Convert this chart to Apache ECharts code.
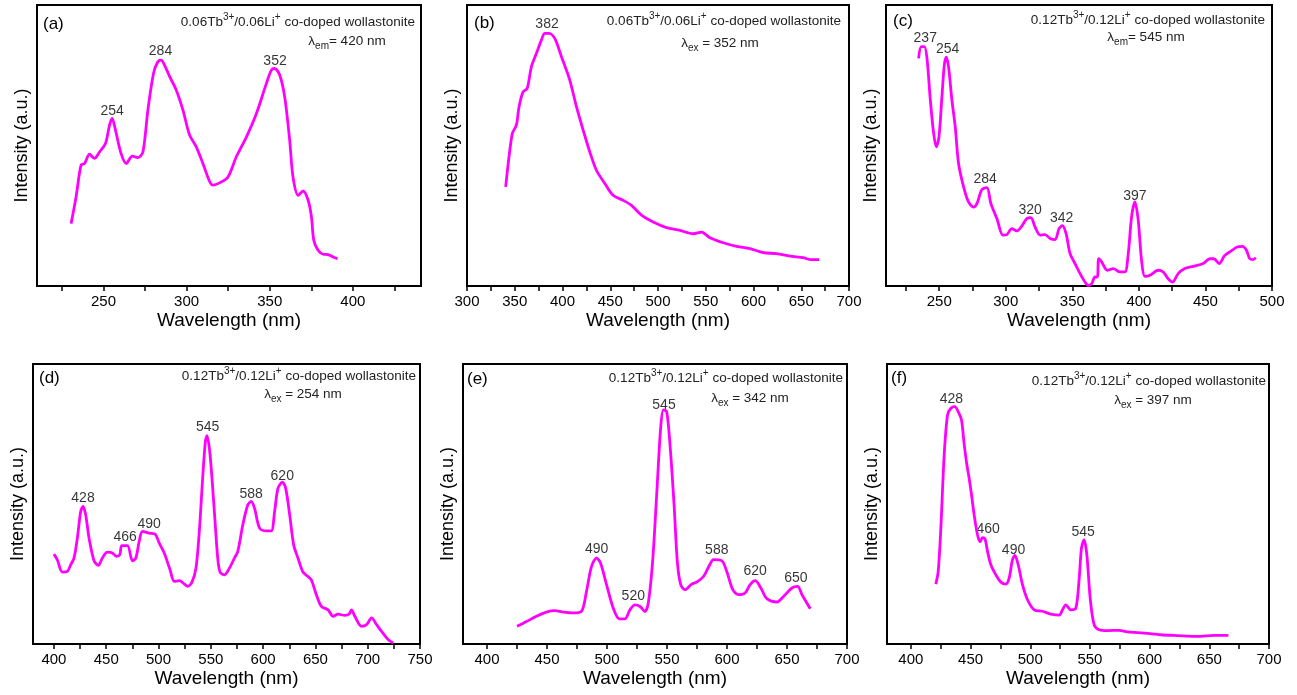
<!DOCTYPE html>
<html style="height: 100%">
<head>
<meta charset="utf-8">
<script src="https://cdn.jsdelivr.net/npm/echarts@6/dist/echarts.min.js"></script>
<style>*{margin:0;padding:0;}</style>
</head>
<body style="height:100%;margin:0;background:#fff">
<div id="container" style="width:1297px;height:695px"></div>
<script>
// spectra: [wavelength nm, intensity (0-100 of the box height)]
var specA = [[230.5,22.2],[233.5,31.7],[236.5,43],[238.6,43.6],[241.6,46.9],[244.6,45.4],[247.6,47.7],[251.2,50.7],[253.6,57.2],[255.2,59.6],[257.2,55.5],[260.6,47.1],[263.7,43.6],[267.3,46.2],[270.7,45.7],[273.7,47.7],[276.7,62.6],[280.1,75.7],[282.7,79.8],[284.7,80.4],[286.7,78.6],[289.8,74.5],[293.8,69.7],[297.8,62.6],[301.8,53.7],[305.8,49.5],[309.8,43.6],[313.9,37.1],[315.9,35.9],[319.9,36.7],[324.9,38.8],[329.9,46],[336,53.1],[342,61.4],[348,72.1],[351,76.8],[353,77.4],[356,75.1],[359,67.3],[362,51.9],[364,38.8],[367.1,32.3],[370.1,33.8],[373.1,30.5],[375.1,24.6],[376.5,16.3],[379.1,12.7],[382.1,11.3],[385.1,11.2],[388.2,10.3],[390.8,9.7]];
var specB = [[340.5,35.3],[344,46],[347.5,54.3],[351,56.7],[352.4,58.4],[354.5,63.8],[358.7,69.1],[363,70.3],[367.4,78],[372.7,82.8],[377.9,87.5],[381.4,89.9],[385.9,89.9],[391.9,88.1],[398.9,81.6],[407.6,73.3],[414.6,63.8],[421.6,55.5],[428.6,47.7],[435.5,41.2],[444.3,36.5],[453,32.3],[463.5,30.5],[472.2,28.7],[482.7,25.2],[494.9,22.8],[508.9,20.8],[522.9,19.8],[536.9,18.6],[545.6,19.2],[554.3,17.2],[568.3,15.4],[582.3,14.1],[596.3,13.3],[610.2,11.9],[624.2,11.5],[638.2,10.6],[652.1,10.1],[659.1,9.4],[668.9,9.4]];
var specC = [[234.5,81],[236.5,85.2],[238.8,85.2],[240.8,81],[243.3,66.2],[245.8,54.3],[247.8,49.5],[249.8,53.1],[252,67.3],[253.8,78.6],[255.3,81.4],[257,78],[259.5,66.2],[262,56.7],[264.5,43.6],[268.3,35.3],[272,29.9],[275.8,28.1],[278.3,29.3],[282,34.3],[285.8,35],[288.8,29.3],[293.3,24],[297.8,18.1],[300.8,18.3],[304.5,20.4],[308.3,19.6],[312,21.3],[315.8,24],[318.8,24.3],[322,21],[325.8,18.1],[329.5,18.3],[333.3,16.9],[337,16.5],[340,20.4],[342.5,21.5],[345.3,18.6],[348.3,11.5],[352,8],[355.8,4.4],[359.5,1.4],[362,0.2],[364.5,0.8],[367,3.2],[368.8,3.2],[369.8,9.7],[372,8.6],[376.3,5.6],[380.8,6.2],[385.8,5],[389.5,5],[392,11.5],[394.5,24.6],[397,29.9],[399.5,23.4],[402,9.1],[404.5,3.4],[408.3,3.8],[414.5,5.6],[418.3,5],[422,2.6],[425.3,1.4],[429.5,4.4],[434.5,6.2],[440.8,7],[448.3,8],[453.3,9.7],[456.3,9.7],[460.3,8],[464.5,10.9],[469.5,12.5],[473.8,13.9],[477.8,14.1],[480.8,12.7],[483.3,9.7],[485.8,9.4],[487.8,10.1]];
var specD = [[400,32.1],[403.2,30.1],[408,25.7],[412.8,25.9],[416,28.3],[419.2,30.7],[422.4,37.8],[425.6,47.3],[427.8,49.1],[430.4,46.1],[433.6,37.8],[438.4,29.7],[442.5,28.1],[446.3,30.7],[451.1,32.8],[455.9,32.5],[459.8,31.3],[463,31.9],[464.9,35.1],[470.3,35.1],[475.1,29.7],[478.3,30.7],[481.5,36.6],[484.7,40.2],[491.1,39.6],[496.9,39.2],[500.7,36],[505.5,32.5],[511,26.5],[515.1,22.4],[519.9,22.6],[524.7,21.4],[527.9,20.6],[532,22.1],[535.8,27.1],[539,40.2],[542.2,59.2],[544.8,72.3],[546.4,74.4],[549.3,67.5],[553.4,47.3],[556.6,30.7],[558.9,25.6],[563,24.7],[567.8,27.1],[572.6,30.7],[575.8,33.1],[580.6,42.6],[585.4,49.7],[588.6,50.9],[591.8,48.5],[596.6,41.4],[603,40.4],[607.8,40.4],[611,47.3],[614.2,55.6],[618.4,57.8],[621.6,55.6],[625.4,46.1],[629.2,35.4],[633.3,30.7],[638.1,25.7],[642.9,24.1],[646.1,22.9],[650.9,17.6],[655.7,13.4],[662.1,12.2],[666.9,9.9],[671.7,10.7],[678.1,10.2],[682.3,10.7],[684.5,12.2],[687.7,9.9],[694.1,6.3],[698.9,6.9],[703.7,9.3],[708.5,6.9],[713.3,4.5],[719.7,1.5],[724.4,0.4]];
var specE = [[425,6.3],[432.8,8],[441.2,9.9],[449.5,11.4],[456.5,11.9],[463.5,11.4],[471.8,11.1],[478.8,11.7],[482.9,18.8],[487.1,27.7],[491.3,30.7],[494.6,28.9],[499.6,21.2],[505.2,12.8],[510.2,9],[514.9,9],[519.1,12.2],[523.3,14],[527.5,13.4],[531.6,11.6],[534.4,14.6],[538,29.4],[541.4,53.3],[544.7,77.1],[547,83.6],[549.7,83],[552.5,71.1],[555.9,49.7],[558.6,29.4],[561.4,21.2],[565,19.4],[570.6,21.4],[574.8,22.1],[580.4,24.1],[585.4,28.1],[588.7,30.1],[595.7,29.7],[599.8,25.9],[604.8,19.4],[609.6,17.6],[615.1,18.2],[619.3,21.2],[623.5,22.6],[628.2,20],[633.2,16.2],[641.6,15],[647.1,17],[654.1,20],[658.8,20.6],[662.5,17.6],[669.4,12.6]];
var specF = [[420.9,21.4],[422.9,25.9],[425.1,41.4],[427.9,67.5],[430.7,81.8],[433.5,84.2],[436.8,84.8],[439.6,83],[442.4,80],[444.7,71.1],[446.9,64],[448.8,59.2],[450.8,53.3],[453,46.1],[455.8,39],[458,36.5],[460,38],[462,37.7],[464.2,33.1],[467,28.3],[471.2,24.7],[475.4,22.1],[479.5,21.4],[482.3,23.5],[485.1,30.1],[487.1,31.6],[489.9,28.3],[493.5,21.2],[497.7,15.8],[503.3,12.2],[510.2,11.7],[517.2,10.7],[524.2,10.3],[527,12.2],[529.8,14],[534,12.2],[538.2,12.8],[541,23.5],[542.9,34.2],[545.1,37.2],[547.4,31.9],[550.2,16.4],[553.5,6.9],[557.7,5.1],[564.7,4.8],[574.4,4.9],[581.4,4.3],[595.4,3.9],[609.3,3.3],[623.3,3],[640,2.7],[654,3.1],[666,3.1]];

// peak labels: [wavelength, intensity at label foot, text]
var peaksA = [[255.2,60.8,'254'],[284.3,82.2,'284'],[353.2,78.6,'352']];
var peaksB = [[383.8,91.7,'382']];
var peaksC = [[239.5,86.9,'237'],[256.3,82.8,'254'],[284.5,36.7,'284'],[318.3,25.4,'320'],[342,22.8,'342'],[397,30.5,'397']];
var peaksD = [[427.8,50.7,'428'],[468.1,36.6,'466'],[491.1,41.4,'490'],[547,76.1,'545'],[588.6,52.1,'588'],[618.3,58.6,'620']];
var peaksE = [[491.3,32.5,'490'],[521.9,15.8,'520'],[547.5,83.9,'545'],[591.5,32.1,'588'],[623.5,24.7,'620'],[657.4,22,'650']];
var peaksF = [[434,86,'428'],[464.7,39.6,'460'],[486,32.1,'490'],[544.3,38.4,'545']];

// tick labels and tick marks
var labelsA = [250,300,350,400];
var ticksA = [225,250,275,300,325,350,375,400,425];
var labelsB = [300,350,400,450,500,550,600,650,700];
var ticksB = [300,325,350,375,400,425,450,475,500,525,550,575,600,625,650,675,700];
var labelsC = [250,300,350,400,450,500];
var ticksC = [225,250,275,300,325,350,375,400,425,450,475,500];
var labelsD = [400,450,500,550,600,650,700,750];
var ticksD = [400,425,450,475,500,525,550,575,600,625,650,675,700,725,750];
var labelsE = [400,450,500,550,600,650,700];
var ticksE = [400,425,450,475,500,525,550,575,600,625,650,675,700];
var labelsF = labelsE;
var ticksF = ticksE;

var sampleTop = ['0.06', '0.06', '0.12', '0.12', '0.12', '0.12'];
var lambdaKind = ['em', 'ex', 'em', 'ex', 'ex', 'ex'];
var lambdaVal = ['420', '352', '545', '254', '342', '397'];
var letters = ['(a)', '(b)', '(c)', '(d)', '(e)', '(f)'];

var font = 'Liberation Sans, Arial, sans-serif';
var magenta = '#ff00ff';

var panels = [
  {grid: {left: 37, top: 5, width: 384, height: 281}, min: 210, max: 441, spec: specA, peaks: peaksA, labels: labelsA, ticks: ticksA,
   letter: [43, 24], l1: [415, 22], l2: [347, 41]},
  {grid: {left: 467, top: 5, width: 382, height: 281}, min: 300, max: 700, spec: specB, peaks: peaksB, labels: labelsB, ticks: ticksB,
   letter: [474, 23], l1: [841, 21], l2: [720, 43]},
  {grid: {left: 886, top: 5, width: 386, height: 281}, min: 210, max: 500, spec: specC, peaks: peaksC, labels: labelsC, ticks: ticksC,
   letter: [893, 21], l1: [1265, 20], l2: [1146, 37]},
  {grid: {left: 33, top: 364, width: 387, height: 280}, min: 380, max: 750, spec: specD, peaks: peaksD, labels: labelsD, ticks: ticksD,
   letter: [39, 378], l1: [416, 376], l2: [303, 394]},
  {grid: {left: 463, top: 364, width: 384, height: 280}, min: 380, max: 700, spec: specE, peaks: peaksE, labels: labelsE, ticks: ticksE,
   letter: [467, 379], l1: [843, 378], l2: [750, 398]},
  {grid: {left: 887, top: 364, width: 382, height: 280}, min: 380, max: 700, spec: specF, peaks: peaksF, labels: labelsF, ticks: ticksF,
   letter: [891, 378], l1: [1266, 381], l2: [1153, 400]}
];

var rich = {
  n: {fontSize: 13.5, fontFamily: font, fill: '#222', color: '#222', lineHeight: 20},
  sup: {fontSize: 10, fontFamily: font, fill: '#222', color: '#222', verticalAlign: 'top'},
  sub: {fontSize: 10, fontFamily: font, fill: '#222', color: '#222', verticalAlign: 'bottom'}
};

var grids = [], xAxes = [], yAxes = [], series = [], graphics = [];

panels.forEach(function (p, i) {
  grids.push(Object.assign({show: true, borderColor: '#000', borderWidth: 2, containLabel: false}, p.grid));
  xAxes.push({
    gridIndex: i, type: 'value', min: p.min, max: p.max,
    name: 'Wavelength (nm)', nameLocation: 'middle', nameGap: 25,
    nameTextStyle: {fontSize: 19, color: '#000', fontFamily: font},
    axisLine: {show: true, lineStyle: {color: '#000', width: 2}},
    axisTick: {show: true, inside: false, length: 5, lineStyle: {color: '#000', width: 1.5}, customValues: p.ticks},
    axisLabel: {fontSize: 15, color: '#000', margin: 8, fontFamily: font, customValues: p.labels},
    splitLine: {show: false}
  });
  yAxes.push({
    gridIndex: i, type: 'value', min: 0, max: 100,
    name: 'Intensity (a.u.)', nameLocation: 'middle', nameGap: 6,
    nameTextStyle: {fontSize: 18, color: '#000', fontFamily: font},
    axisLine: {show: false}, axisTick: {show: false}, axisLabel: {show: false}, splitLine: {show: false}
  });
  series.push({
    type: 'line', xAxisIndex: i, yAxisIndex: i, data: p.spec,
    showSymbol: false, smooth: 0.3,
    lineStyle: {color: magenta, width: 2.8}, itemStyle: {color: magenta}
  });
  series.push({
    type: 'scatter', xAxisIndex: i, yAxisIndex: i, symbolSize: 0, silent: true,
    data: p.peaks.map(function (k) { return {value: [k[0], k[1]], name: k[2]}; }),
    label: {show: true, position: 'top', distance: 0, offset: [0, 3], formatter: '{b}',
      fontSize: 14, color: '#000', fontFamily: font}
  });
  graphics.push({
    type: 'text', x: p.letter[0], y: p.letter[1],
    style: {text: letters[i], fontSize: 17, fontFamily: font, fill: '#000', verticalAlign: 'middle', align: 'left'}
  });
  graphics.push({
    type: 'text', x: p.l1[0], y: p.l1[1],
    style: {
      text: '{n|' + sampleTop[i] + 'Tb}{sup|3+}{n|/' + sampleTop[i] + 'Li}{sup|+}{n| co-doped wollastonite}',
      rich: rich, align: 'right', verticalAlign: 'middle', fontFamily: font, fill: '#222'
    }
  });
  graphics.push({
    type: 'text', x: p.l2[0], y: p.l2[1],
    style: {
      text: '{n|λ}{sub|' + lambdaKind[i] + '}{n|' + (lambdaKind[i] === 'em' ? '= ' : ' = ') + lambdaVal[i] + ' nm}',
      rich: rich, align: 'center', verticalAlign: 'middle', fontFamily: font, fill: '#222'
    }
  });
});

var myChart = echarts.init(document.getElementById('container'), null, {renderer: 'canvas'});
myChart.setOption({
  animation: false,
  backgroundColor: '#fff',
  grid: grids,
  xAxis: xAxes,
  yAxis: yAxes,
  series: series,
  graphic: graphics
});
</script>
</body>
</html>
